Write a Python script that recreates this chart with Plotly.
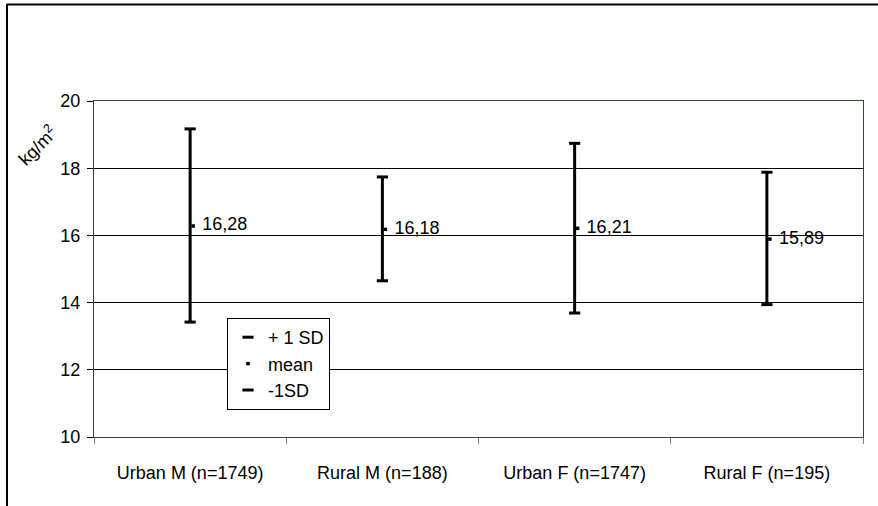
import plotly.graph_objects as go

# Body-mass index by group: mean and +/- 1 standard deviation (kg/m2)
groups = ["Urban M (n=1749)", "Rural M (n=188)", "Urban F (n=1747)", "Rural F (n=195)"]
mean_bmi = [16.28, 16.18, 16.21, 15.89]
plus_sd = [19.17, 17.74, 18.74, 17.88]
minus_sd = [13.42, 14.65, 13.69, 13.94]

y_ticks = [10, 12, 14, 16, 18, 20]
legend_names = ["+ 1 SD", "mean", "-1SD"]

W, H = 878, 506
ML, MR, MT, MB = 94, 15, 101, 69
PW, PH = W - ML - MR, H - MT - MB

FONT = "Liberation Sans, Arial, sans-serif"
FS = 18
FRAME_GREEN = "#2f4a2f"

def px_x(px):
    return (px - ML) / PW

def px_y(py):
    return (H - MB - py) / PH

n = len(groups)
idx = list(range(n))
# the closing (mean) tick sits a few pixels right of the vertical bar,
# and its value label a little further out
mean_offset = 3.0 * n / PW
label_offset = 12.0 * n / PW

fig = go.Figure()

# vertical high-low bars
vx, vy = [], []
for g, lo, hi in zip(groups, minus_sd, plus_sd):
    vx += [g, g, None]
    vy += [lo, hi, None]
fig.add_trace(go.Scatter(x=vx, y=vy, mode="lines", line=dict(color="black", width=3),
                         showlegend=False, hoverinfo="skip"))

fig.add_trace(go.Scatter(
    x=groups, y=plus_sd, mode="markers", name=legend_names[0],
    marker=dict(symbol="line-ew", size=8, color="black", line=dict(color="black", width=3)),
))
fig.add_trace(go.Scatter(
    x=[i + mean_offset for i in idx], y=mean_bmi, xaxis="x2", mode="markers",
    name=legend_names[1],
    marker=dict(symbol="square", size=3.5, color="black"),
))
fig.add_trace(go.Scatter(
    x=groups, y=minus_sd, mode="markers", name=legend_names[2],
    marker=dict(symbol="line-ew", size=8, color="black", line=dict(color="black", width=3)),
))
# value labels for the means
fig.add_trace(go.Scatter(
    x=[i + label_offset for i in idx], y=mean_bmi, xaxis="x2", mode="text",
    text=[f"{v:.2f}".replace(".", ",") for v in mean_bmi],
    textposition="middle right",
    textfont=dict(family=FONT, size=FS, color="black"),
    showlegend=False, hoverinfo="skip",
))

fig.update_layout(
    width=W, height=H,
    margin=dict(l=ML, r=MR, t=MT, b=MB),
    paper_bgcolor="white", plot_bgcolor="white",
    font=dict(family=FONT, size=FS, color="black"),
    xaxis=dict(
        type="category", categoryorder="array", categoryarray=groups,
        range=[-0.5, n - 0.5], tickson="boundaries",
        ticks="outside", ticklen=6, tickcolor="#808080", tickwidth=1,
        showgrid=False, zeroline=False,
        showline=True, linecolor=FRAME_GREEN, linewidth=1, mirror=True,
        ticklabelstandoff=19,
    ),
    xaxis2=dict(overlaying="x", range=[-0.5, n - 0.5], visible=False),
    yaxis=dict(
        range=[10, 20], tickvals=y_ticks,
        ticks="outside", ticklen=6, tickcolor="black", tickwidth=1,
        showgrid=True, gridcolor="black", gridwidth=1, zeroline=False,
        showline=True, linecolor=FRAME_GREEN, linewidth=1, mirror=True,
        ticklabelstandoff=3,
    ),
    legend=dict(
        x=px_x(227), y=px_y(318), xanchor="left", yanchor="top",
        bgcolor="white", bordercolor="black", borderwidth=1,
        font=dict(family=FONT, size=FS, color="black"),
        tracegroupgap=0,
    ),
    annotations=[dict(
        text="kg/m<sup>2</sup>", x=px_x(37), y=px_y(145), xref="paper", yref="paper",
        xanchor="center", yanchor="middle",
        showarrow=False, textangle=-45, font=dict(family=FONT, size=FS, color="black"),
    )],
    shapes=[
        dict(type="line", xref="paper", yref="paper",
             x0=px_x(7), x1=px_x(W + 2), y0=px_y(4.5), y1=px_y(4.5),
             line=dict(color="black", width=2)),
        dict(type="line", xref="paper", yref="paper",
             x0=px_x(7), x1=px_x(7), y0=px_y(4), y1=px_y(H + 2),
             line=dict(color="black", width=2)),
    ],
    showlegend=True,
)

fig.write_html("out.html")
